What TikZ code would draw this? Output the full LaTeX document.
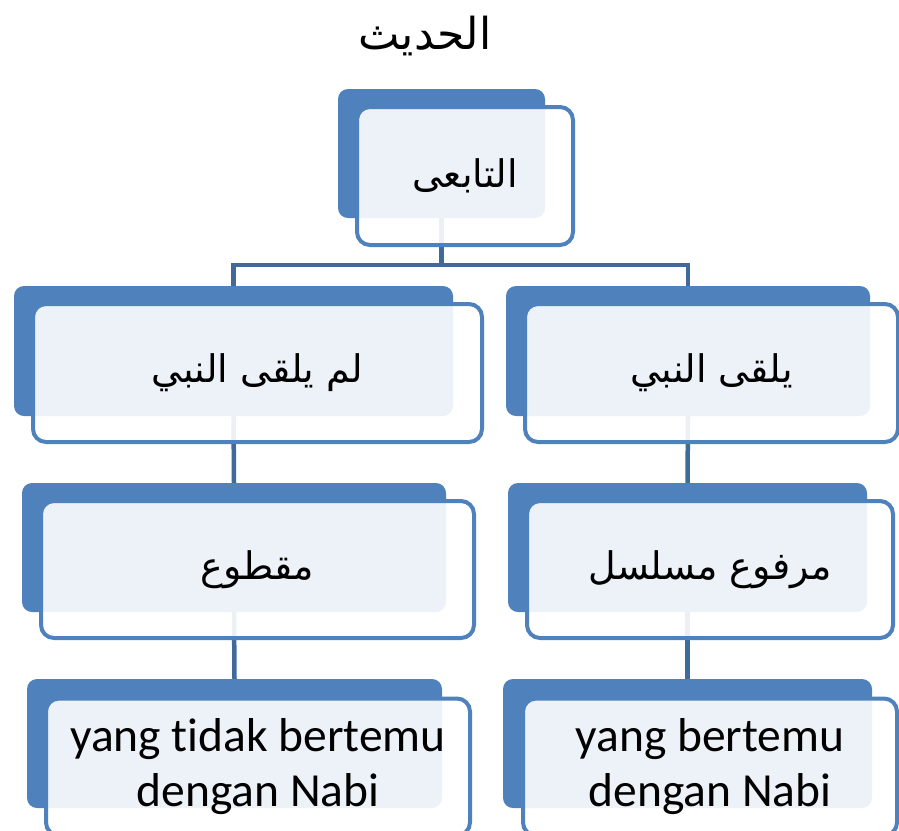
\documentclass[tikz,border=0pt]{standalone}
\usepackage{fontspec}
\setmainfont{Carlito}[Ligatures=CommonOff]
\newfontfamily\arabicfont[Script=Arabic]{DejaVu Sans}
\TeXXeTstate=1
\usepackage{tikz}
\definecolor{accblue}{HTML}{4F81BD}
\definecolor{linkblue}{HTML}{416A9C}

\begin{document}
\begin{tikzpicture}[x=1pt,y=-1pt,
  backbox/.style={rectangle,rounded corners=10pt,fill=accblue,inner sep=0pt},
  frontbox/.style={rectangle,rounded corners=13pt,draw=accblue,line width=4pt,fill=white,fill opacity=0.9,text opacity=1,align=center,inner sep=0pt},
  link/.style={draw=linkblue,line width=4.5pt},
  artxt/.style={font=\fontsize{38}{44}\selectfont\arabicfont},
  idtxt/.style={font=\fontsize{47.5}{55}\selectfont}]
\useasboundingbox (0,0) rectangle (899,830);
% back plates
\node[backbox,minimum width=207pt,minimum height=129pt] (top_b) at (441.5,153.5) {};
\node[backbox,minimum width=439pt,minimum height=130pt] (l2l_b) at (233.5,351) {};
\node[backbox,minimum width=364pt,minimum height=130pt] (l2r_b) at (688,351) {};
\node[backbox,minimum width=424pt,minimum height=129pt] (l3l_b) at (234,547.5) {};
\node[backbox,minimum width=359pt,minimum height=129pt] (l3r_b) at (687.5,547.5) {};
\node[backbox,minimum width=415pt,minimum height=129pt] (l4l_b) at (234.5,743.5) {};
\node[backbox,minimum width=369pt,minimum height=129pt] (l4r_b) at (687.5,743.5) {};
% connectors
\coordinate (split) at (441.5,265);
\draw[link] (top_b.south) -- (split) -| (l2l_b.north);
\draw[link] (split) -| (l2r_b.north);
\draw[link] (l2l_b.south) -- (l3l_b.north);
\draw[link] (l2r_b.south) -- (l3r_b.north);
\draw[link] (l3l_b.south) -- (l4l_b.north);
\draw[link] (l3r_b.south) -- (l4r_b.north);
% front boxes with text
\node[font=\fontsize{44}{50}\selectfont\arabicfont] (title) at (425,36) {\beginR الحديث\endR};
\node[frontbox,artxt,minimum width=216pt,minimum height=138pt] (top_f) at (465,176) {\beginR التابعى\endR};
\node[frontbox,artxt,minimum width=449pt,minimum height=138pt] (l2l_f) at (257.5,373) {\beginR لم يلقى النبي\endR};
\node[frontbox,artxt,minimum width=373pt,minimum height=138pt] (l2r_f) at (711.5,373) {\beginR يلقى النبي\endR};
\node[frontbox,artxt,minimum width=433pt,minimum height=137pt] (l3l_f) at (257.5,569.5) {\beginR مقطوع\endR};
\node[frontbox,artxt,minimum width=366pt,minimum height=137pt] (l3r_f) at (710,569.5) {\beginR مرفوع مسلسل\endR};
\node[frontbox,idtxt,minimum width=424pt,minimum height=137pt] (l4l_f) at (258,767) {yang tidak bertemu\\dengan Nabi};
\node[frontbox,idtxt,minimum width=374pt,minimum height=137pt] (l4r_f) at (710,767) {yang bertemu\\dengan Nabi};
\end{tikzpicture}
\end{document}
